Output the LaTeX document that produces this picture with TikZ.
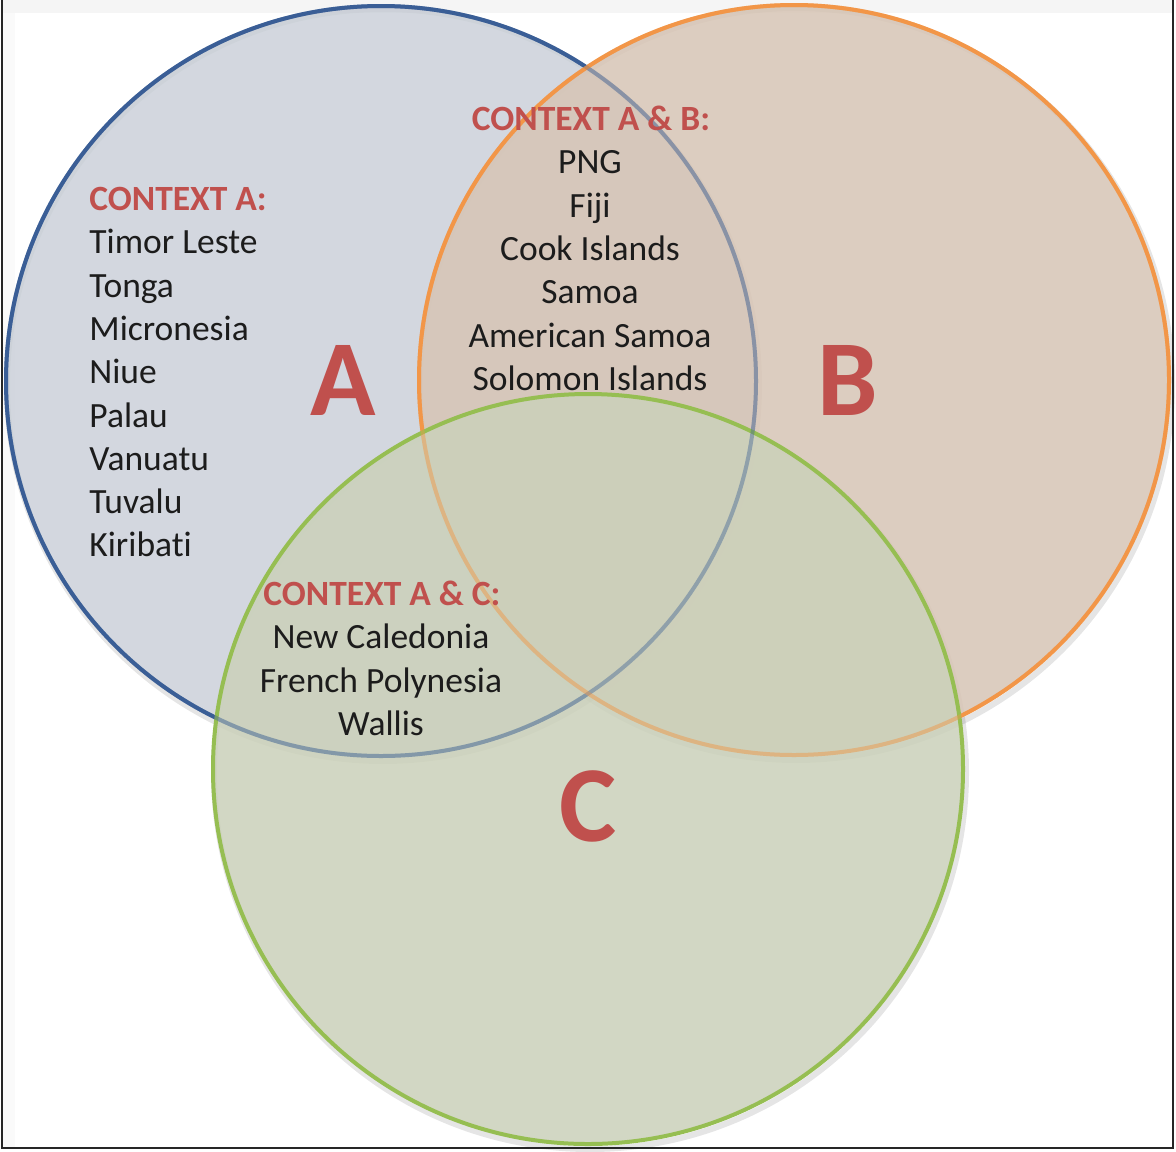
\documentclass[tikz,border=0pt]{standalone}
\usepackage{fontspec}
\setmainfont{Carlito}[Ligatures=NoCommon]
\usepackage{xcolor}
\usepackage{tikz}
\definecolor{lineA}{RGB}{58,94,150}
\definecolor{lineB}{RGB}{242,150,72}
\definecolor{lineC}{RGB}{150,190,82}
\definecolor{tintA}{RGB}{200,206,215}
\definecolor{tintB}{RGB}{215,197,181}
\definecolor{tintC}{RGB}{203,209,186}
\definecolor{ctxred}{RGB}{192,80,77}
\definecolor{inktext}{RGB}{28,28,28}
\tikzset{
  % --- the three context sets ----------------------------------------------
  venn/.style={circle,inner sep=0pt,minimum size=375pt,line width=2pt,
               fill opacity=0.85},
  setA/.style={venn,draw=lineA,fill=tintA,fill opacity=0.8},
  setB/.style={venn,draw=lineB,fill=tintB},
  setC/.style={venn,draw=lineC,fill=tintC},
  ghost/.style={line width=2pt,opacity=0.4},
  halo/.style={draw=black,opacity=0.10,line width=3pt},
  % --- labels ----------------------------------------------------------------
  ctxhead/.style={font=\fontsize{17.75}{21.7}\selectfont\bfseries,
                  text=ctxred,inner sep=0pt},
  country/.style={font=\fontsize{17.75}{21.7}\selectfont,text=inktext,
                  inner sep=0pt},
  setlab/.style={font=\fontsize{54}{60}\selectfont\bfseries,text=ctxred,
                 inner sep=0pt,anchor=base},
  frameline/.style={draw=black!85,line width=1pt},
}
\begin{document}
\begin{tikzpicture}[x={(0.5pt,0)}, y={(0,-0.5pt)}]
  \useasboundingbox (0,0) rectangle (1176,1151);
  \fill[white] (0,0) rectangle (1176,1151);
  \fill[black!4] (1.5,0) rectangle (1173,13);
  \fill[black!2] (2,13) rectangle (15,1147);

  \coordinate (oA) at (381,381);
  \coordinate (oB) at (794,380);
  \coordinate (oC) at (588,769);

  % soft shadows
  \draw[halo] ([shift={(2,4)}]oA) circle[radius=376];
  \draw[halo] ([shift={(2,4)}]oB) circle[radius=376];
  \draw[halo] ([shift={(2,4)}]oC) circle[radius=376];

  \node[setA] (A) at (oA) {};
  \node[setB] (B) at (oB) {};
  \node[setC] (C) at (oC) {};

  % outlines seen through the sets drawn above them
  \draw[ghost,lineA] (oA) circle[radius=375];
  \draw[ghost,lineB] (oB) circle[radius=375];

  \node[setlab] (labA) at (343,415) {A};
  \node[setlab] (labB) at (848,415) {B};
  \node[setlab] (labC) at (588,841) {C};

  % context A only
  \node[ctxhead,anchor=base west] (hA) at (89,210.5) {CONTEXT A:};
  \foreach \name [count=\i] in {Timor Leste,Tonga,Micronesia,Niue,Palau,
                               Vanuatu,Tuvalu,Kiribati}
    \node[country,anchor=base west] (a\i) at (89,{210.5+43.3*\i}) {\name};

  % context A & B
  \node[ctxhead,anchor=base] (hAB) at (591,130.5) {CONTEXT A \& B:};
  \foreach \name [count=\i] in {PNG,Fiji,Cook Islands,Samoa,American Samoa,
                               Solomon Islands}
    \node[country,anchor=base] (ab\i) at (590,{130.5+43.3*\i}) {\name};

  % context A & C
  \node[ctxhead,anchor=base] (hAC) at (382,605.5) {CONTEXT A \& C:};
  \foreach \name [count=\i] in {New Caledonia,French Polynesia,Wallis}
    \node[country,anchor=base] (ac\i) at (381,{605.5+43.3*\i}) {\name};

  \draw[frameline] (1.5,0) -- (1.5,1148) -- (1173,1148) -- (1173,0);
\end{tikzpicture}
\end{document}
